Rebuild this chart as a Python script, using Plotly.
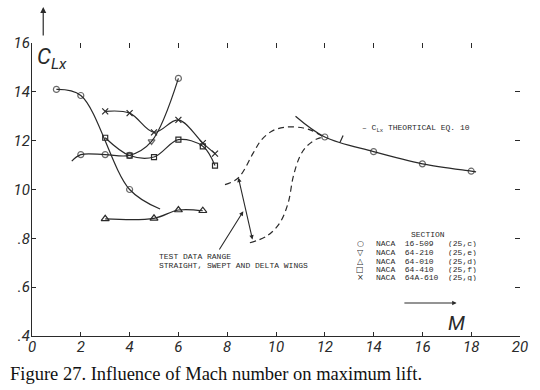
import plotly.graph_objects as go

# ---------------- data ----------------
# NACA 16-509 (circles); last point is the unmarked end of the drawn curve
s16509_x = [1.0, 2.0, 4.0, 5.25]
s16509_y = [1.41, 1.385, 1.0, 0.92]
s16509_mark = [1, 1, 1, 0]

# NACA 64-210
s64210_x = [1.63, 2.0, 3.0, 4.0, 4.9, 6.0]
s64210_y = [1.116, 1.143, 1.143, 1.14, 1.197, 1.455]
s64210_mark = [0, 1, 1, 1, 1, 1]
s64210_sym = ["circle-open", "circle-open", "circle-open", "circle-open",
              "triangle-down-open", "circle-open"]

# NACA 64-010 (triangles)
s64010_x = [3.0, 5.0, 6.0, 7.0]
s64010_y = [0.88, 0.882, 0.916, 0.913]

# NACA 64-410 (squares)
s64410_x = [3.0, 4.0, 5.0, 6.0, 7.0, 7.5]
s64410_y = [1.212, 1.139, 1.133, 1.204, 1.177, 1.098]

# NACA 64A-610 (crosses)
s64a610_x = [3.0, 4.0, 5.0, 6.0, 7.0, 7.5]
s64a610_y = [1.32, 1.313, 1.234, 1.285, 1.19, 1.147]

# theoretical CLx (eq. 10); first and last points are unmarked curve ends
theo_x = [10.8, 12.0, 14.0, 16.0, 18.0, 18.2]
theo_y = [1.30, 1.215, 1.155, 1.105, 1.075, 1.072]
theo_mark = [0, 1, 1, 1, 1, 0]

# test data range envelope (dashed)
env_up_x = [7.91, 8.46, 9.07, 9.41, 9.89, 10.44, 11.12, 11.5, 11.94]
env_up_y = [1.02, 1.048, 1.15, 1.204, 1.242, 1.256, 1.252, 1.24, 1.215]
env_lo_x = [8.93, 9.62, 10.16, 10.5, 10.71, 10.98, 11.26, 11.67, 11.94]
env_lo_y = [0.782, 0.809, 0.864, 0.946, 1.054, 1.136, 1.177, 1.207, 1.215]

# axes ticks
x_ticks = [0, 2, 4, 6, 8, 10, 12, 14, 16, 18, 20]
x_ticktext = ["0", "2", "4", "6", "8", "10", "12", "14", "16", "18", "20"]
y_ticks = [0.4, 0.6, 0.8, 1.0, 1.2, 1.4, 1.6]
y_ticktext = [".4", ".6", ".8", "10", "12", "14", "16"]

# legend
legend_title = "SECTION"
legend_symbols = ["○", "▽", "△", "□", "×"]
legend_rows = ["NACA  16-509   (25,c)",
               "NACA  64-210   (25,e)",
               "NACA  64-010   (25,d)",
               "NACA  64-410   (25,f)",
               "NACA  64A-610  (25,g)"]

caption = "Figure 27. Influence of Mach number on maximum lift."

# ---------------- figure ----------------
INK = "#2a2a2a"
LINE = dict(color=INK, width=1.2, shape="spline", smoothing=1.0)
MK = 6

fig = go.Figure()


def sizes(mask):
    return [MK if m else 0 for m in mask]


fig.add_trace(go.Scatter(x=s16509_x, y=s16509_y, mode="lines+markers", line=LINE,
                         marker=dict(symbol="circle-open", size=sizes(s16509_mark),
                                     color=INK, line=dict(width=1.2))))
fig.add_trace(go.Scatter(x=s64210_x, y=s64210_y, mode="lines+markers", line=LINE,
                         marker=dict(symbol=s64210_sym, size=sizes(s64210_mark),
                                     color=INK, line=dict(width=1.2))))
fig.add_trace(go.Scatter(x=s64010_x, y=s64010_y, mode="lines+markers", line=LINE,
                         marker=dict(symbol="triangle-up-open", size=MK + 1,
                                     color=INK, line=dict(width=1.2))))
fig.add_trace(go.Scatter(x=s64410_x, y=s64410_y, mode="lines+markers", line=LINE,
                         marker=dict(symbol="square-open", size=MK - 1,
                                     color=INK, line=dict(width=1.2))))
fig.add_trace(go.Scatter(x=s64a610_x, y=s64a610_y, mode="lines+markers", line=LINE,
                         marker=dict(symbol="x-thin-open", size=MK,
                                     color=INK, line=dict(width=1.2, color=INK))))
fig.add_trace(go.Scatter(x=theo_x, y=theo_y, mode="lines+markers", line=LINE,
                         marker=dict(symbol="circle-open", size=sizes(theo_mark),
                                     color=INK, line=dict(width=1.2))))
DASH = dict(color=INK, width=1.2, shape="spline", smoothing=1.0, dash="6px,4px")
fig.add_trace(go.Scatter(x=env_up_x, y=env_up_y, mode="lines", line=DASH))
fig.add_trace(go.Scatter(x=env_lo_x, y=env_lo_y, mode="lines", line=DASH))

TICKFONT = dict(family="Liberation Sans Narrow, Roboto, sans-serif", size=15,
                color=INK, style="italic")

fig.update_layout(
    width=540, height=390,
    margin=dict(l=32, r=20, t=43, b=54),
    paper_bgcolor="white", plot_bgcolor="white",
    showlegend=False,
    xaxis=dict(range=[0, 20], tickvals=x_ticks, ticktext=x_ticktext,
               showgrid=False, zeroline=False, showline=True, linecolor=INK,
               linewidth=1.3, ticks="inside", ticklen=4, tickcolor=INK,
               tickfont=TICKFONT, ticklabelstandoff=-3, automargin=False),
    yaxis=dict(range=[0.4, 1.6], tickvals=y_ticks, ticktext=y_ticktext,
               showgrid=False, zeroline=False, showline=True, linecolor=INK,
               linewidth=1.3, ticks="inside", ticklen=4, tickcolor=INK,
               tickfont=TICKFONT, ticklabelstandoff=-2, automargin=False),
    xaxis2=dict(range=[0, 20], tickvals=x_ticks[1:], overlaying="x", side="top",
                anchor="y", showgrid=False, zeroline=False, showline=False,
                ticks="inside", ticklen=5, tickcolor=INK, showticklabels=False,
                automargin=False),
    yaxis2=dict(range=[0.4, 1.6], tickvals=[0.6, 0.8, 1.0, 1.2, 1.4, 1.6],
                overlaying="y", side="right", anchor="x", showgrid=False,
                zeroline=False, showline=False, ticks="inside", ticklen=5,
                tickcolor=INK, showticklabels=False, automargin=False),
)
# empty trace so the mirrored tick axes are drawn
fig.add_trace(go.Scatter(x=[None], y=[None], xaxis="x2", yaxis="y2", showlegend=False))

MONO = dict(family="Liberation Mono, DejaVu Sans Mono, monospace", size=8, color=INK)
ann = []
# CLx axis label
ann.append(dict(x=0.12, y=1.535, xref="x", yref="y", xanchor="left", yanchor="middle",
                text="C<sub>Lx</sub>", showarrow=False,
                font=dict(family="Liberation Sans Narrow, Roboto, sans-serif",
                          size=22, color=INK, style="italic")))
# up arrow above the y axis (paper coords: above the plot area)
ann.append(dict(x=0.023, y=1.1225, xref="paper", yref="paper", ax=0, ay=30,
                text="", showarrow=True, arrowhead=2, arrowsize=1,
                arrowwidth=1.2, arrowcolor=INK))
# M arrow and label
ann.append(dict(x=17.4, y=0.535, ax=15.2, ay=0.535, xref="x", yref="y", axref="x",
                ayref="y", text="", showarrow=True, arrowhead=2, arrowsize=0.8,
                arrowwidth=1.1, arrowcolor=INK))
ann.append(dict(x=17.4, y=0.455, xref="x", yref="y", text="M", showarrow=False,
                font=dict(family="Liberation Sans Narrow, Roboto, sans-serif",
                          size=20, color=INK, style="italic")))
# theoretical label
ann.append(dict(x=13.45, y=1.25, xref="x", yref="y", xanchor="left", yanchor="middle",
                text="– C<sub>Lx</sub> THEORTICAL EQ. 10", showarrow=False, font=MONO))
# test data range line (double headed) and pointer
ann.append(dict(x=8.46, y=1.048, ax=9.05, ay=0.789, xref="x", yref="y", axref="x",
                ayref="y", text="", showarrow=True, arrowhead=2, startarrowhead=2,
                arrowside="end+start", arrowsize=0.8, arrowwidth=1.1, arrowcolor=INK))
ann.append(dict(x=8.66, y=0.911, ax=7.64, ay=0.748, xref="x", yref="y", axref="x",
                ayref="y", text="", showarrow=True, arrowhead=2, arrowsize=0.8,
                arrowwidth=1.1, arrowcolor=INK))
ann.append(dict(x=5.12, y=0.727, xref="x", yref="y", xanchor="left", yanchor="middle",
                text="TEST DATA RANGE", showarrow=False, font=MONO, height=8))
ann.append(dict(x=5.12, y=0.691, xref="x", yref="y", xanchor="left", yanchor="middle",
                text="STRAIGHT, SWEPT AND DELTA WINGS", showarrow=False, font=MONO,
                height=8))
# legend block
ann.append(dict(x=15.46, y=0.816, xref="x", yref="y", xanchor="left", yanchor="middle",
                text=legend_title, showarrow=False, font=MONO, height=8))
row_y = [0.779, 0.744, 0.709, 0.674, 0.640]
for sym, row, yy in zip(legend_symbols, legend_rows, row_y):
    ann.append(dict(x=13.45, y=yy, xref="x", yref="y", xanchor="center",
                    yanchor="middle", text=sym, showarrow=False, height=8,
                    font=dict(family="DejaVu Sans", size=8, color=INK)))
    ann.append(dict(x=14.03, y=yy, xref="x", yref="y", xanchor="left",
                    yanchor="middle", text=row, showarrow=False, font=MONO, height=8))
# caption
ann.append(dict(x=-0.05, y=-0.13, xref="paper", yref="paper", xanchor="left",
                yanchor="middle", text=caption, showarrow=False,
                font=dict(family="Liberation Serif, serif", size=18.5, color="#111")))
fig.update_layout(annotations=ann)

# small leader tick on the theoretical curve
fig.add_shape(type="line", x0=12.62, y0=1.192, x1=12.75, y1=1.221, xref="x", yref="y",
              line=dict(color=INK, width=1.2))

fig.write_html("out.html",
               config={"displayModeBar": False},
               post_script="document.body.style.margin='0px';"
                           "document.body.style.overflow='hidden';")
